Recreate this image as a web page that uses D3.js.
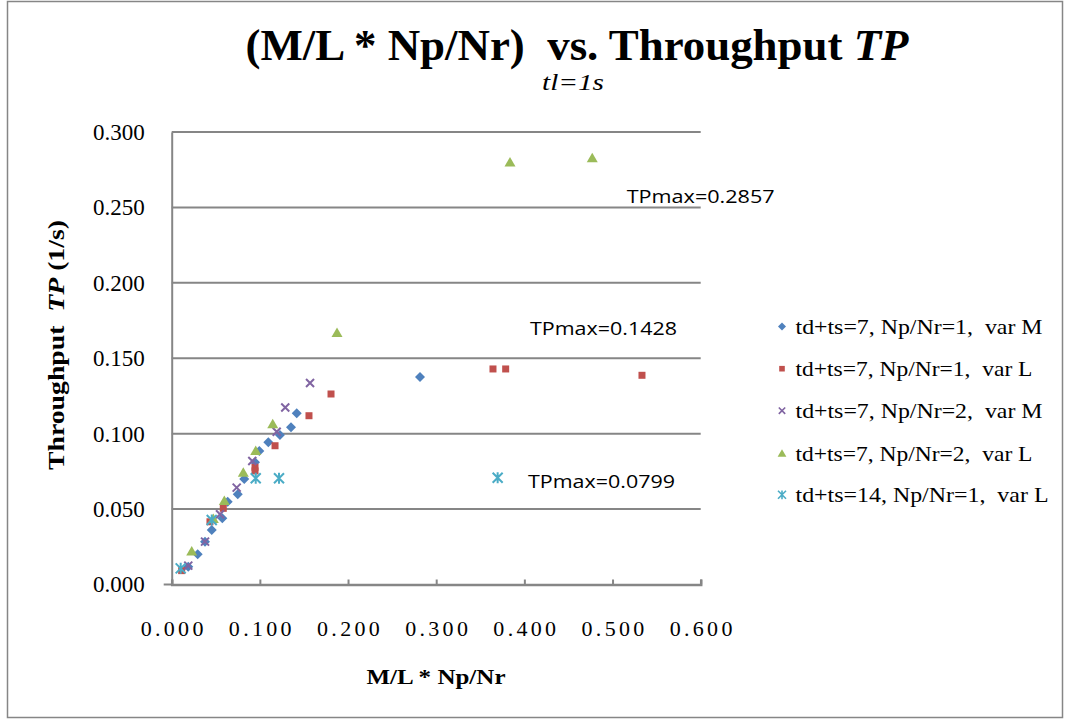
<!DOCTYPE html>
<html><head><meta charset="utf-8">
<script src="https://cdn.jsdelivr.net/npm/d3@7"></script>
<style>body{margin:0;background:#fff}svg{display:block}text{white-space:pre}</style>
</head><body>
<svg id="c" width="1070" height="721"></svg>
<script>
const seriesNames = ["td+ts=7, Np/Nr=1,  var M","td+ts=7, Np/Nr=1,  var L","td+ts=7, Np/Nr=2,  var M","td+ts=7, Np/Nr=2,  var L","td+ts=14, Np/Nr=1,  var L"];
const colors = ["#4F81BD","#C0504D","#8064A2","#9BBB59","#4BACC6"];
const shapes = ["diamond","square","x","triangle","star"];
const s1x = [0.0188,0.0295,0.0378,0.0454,0.0574,0.0635,0.0749,0.0823,0.0945,0.0994,0.1096,0.1228,0.1353,0.1418,0.2816];
const s1y = [0.0118,0.0200,0.0284,0.0361,0.0439,0.0549,0.0598,0.0700,0.0810,0.0885,0.0943,0.0991,0.1042,0.1135,0.1376];
const s2x = [0.0113,0.0434,0.0585,0.0945,0.0945,0.1172,0.1557,0.1807,0.3644,0.3788,0.5334];
const s2y = [0.0092,0.0416,0.0505,0.0777,0.0753,0.0920,0.1119,0.1263,0.1429,0.1429,0.1387];
const s3x = [0.0188,0.0378,0.0548,0.0737,0.0914,0.1191,0.1288,0.1569];
const s3y = [0.0125,0.0284,0.0466,0.0642,0.0819,0.1013,0.1174,0.1336];
const s4x = [0.0227,0.0472,0.0597,0.0812,0.0953,0.1146,0.1875,0.3837,0.4770];
const s4y = [0.0218,0.0434,0.0554,0.0741,0.0885,0.1062,0.1668,0.2797,0.2826];
const s5x = [0.0102,0.0454,0.0953,0.1217,0.3697];
const s5y = [0.0107,0.0428,0.0704,0.0704,0.0708];
const xTicks = [0,0.1,0.2,0.3,0.4,0.5,0.6];
const yTicks = [0,0.05,0.1,0.15,0.2,0.25,0.3];
const annotations = [["TPmax=0.2857",0.2857],["TPmax=0.1428",0.1428],["TPmax=0.0799",0.0799]];

const SERIF = "'Times New Roman', Times, 'Liberation Serif', serif";
const svg = d3.select("#c");
const x = d3.scaleLinear().domain([0,0.6]).range([171.7,700.7]);
const y = d3.scaleLinear().domain([0,0.3]).range([584.5,132]);
const fmt = d3.format(".3f");
const grid = "#868686";

svg.append("rect").attr("x",7.5).attr("y",1.5).attr("width",1055).attr("height",716)
  .attr("fill","#fff").attr("stroke",grid).attr("stroke-width",1.5);

// gridlines
svg.append("g").selectAll("line").data(yTicks.slice(1)).join("line")
  .attr("x1",x(0)).attr("x2",x(0.6)).attr("y1",d=>y(d)).attr("y2",d=>y(d))
  .attr("stroke",grid).attr("stroke-width",2);

// y axis
const ya = svg.append("g").attr("transform",`translate(${x(0)},0)`)
  .call(d3.axisLeft(y).tickValues(yTicks).tickFormat(fmt).tickSize(0).tickPadding(27));
ya.attr("font-family",SERIF);
ya.select(".domain").attr("stroke",grid).attr("stroke-width",2);
ya.selectAll("text").style("font-family",SERIF).attr("font-size",23).attr("fill","#000");
svg.append("line").attr("x1",x(0)-8).attr("x2",x(0)).attr("y1",y(0)).attr("y2",y(0)).attr("stroke",grid).attr("stroke-width",2);

// x axis
const xa = svg.append("g").attr("transform",`translate(0,${y(0)})`)
  .call(d3.axisBottom(x).tickValues(xTicks).tickFormat(fmt).tickSize(-5).tickPadding(36));
xa.attr("font-family",SERIF);
xa.select(".domain").attr("stroke",grid).attr("stroke-width",2.5);
xa.selectAll("line").attr("stroke",grid).attr("stroke-width",2);
xa.selectAll("text").style("font-family",SERIF).attr("font-size",22)
  .attr("letter-spacing","3.3px").attr("fill","#000").attr("dx","1.5");

// symbols
function drawMarker(g, shape, color){
  if(shape==="diamond") g.append("path").attr("d","M0,-5L5,0L0,5L-5,0Z").attr("fill",color);
  else if(shape==="square") g.append("rect").attr("x",-3.5).attr("y",-3.5).attr("width",7).attr("height",7).attr("fill",color);
  else if(shape==="triangle") g.append("path").attr("d","M0,-5.5L5.5,4L-5.5,4Z").attr("fill",color);
  else if(shape==="x") g.append("path").attr("d","M-4,-4L4,4M-4,4L4,-4").attr("stroke",color).attr("stroke-width",2).attr("fill","none");
  else if(shape==="star") g.append("path").attr("d","M-5,-5L5,5M-5,5L5,-5M0,-5.5L0,5.5").attr("stroke",color).attr("stroke-width",2).attr("fill","none");
}
const series = [[s1x,s1y],[s2x,s2y],[s3x,s3y],[s4x,s4y],[s5x,s5y]];
series.forEach((s,i)=>{
  const pts = s[0].map((v,j)=>[v,s[1][j]]);
  const g = svg.append("g");
  pts.forEach(p=>{
    const m = g.append("g").attr("transform",`translate(${x(p[0])},${y(p[1])})`);
    drawMarker(m, shapes[i], colors[i]);
  });
});

// annotations
const annX = [626.7,530,528];
const annLen = [148,147,147];
const annBase = [203,335,488];
annotations.forEach((a,i)=>{
  svg.append("text").attr("x",annX[i]).attr("y",annBase[i])
    .style("font-family","'Open Sans', 'Noto Sans', sans-serif").attr("font-size",19)
    .attr("textLength",annLen[i]).attr("lengthAdjust","spacingAndGlyphs")
    .attr("fill","#000").text(a[0]);
});

// legend
const legY = [326.5,368.7,410.7,453.6,494.8];
const legLen = [247,237,247,237,253];
seriesNames.forEach((n,i)=>{
  const sc = svg.append("g").attr("transform",`translate(782,${legY[i]}) scale(0.8)`);
  drawMarker(sc, shapes[i], colors[i]);
  svg.append("text").attr("x",795.5).attr("y",legY[i]+7).style("font-family",SERIF)
    .attr("font-size",22).attr("textLength",legLen[i]).attr("lengthAdjust","spacingAndGlyphs").text(n);
});

// titles
const t = svg.append("text").attr("x",577).attr("y",60).attr("text-anchor","middle")
  .style("font-family",SERIF).attr("font-weight","bold").attr("font-size",44)
  .attr("textLength",663).attr("lengthAdjust","spacingAndGlyphs");
t.append("tspan").text("(M/L * Np/Nr)  vs. Throughput ");
t.append("tspan").attr("font-style","italic").text("TP");
svg.append("text").attr("x",573).attr("y",90).attr("text-anchor","middle")
  .style("font-family",SERIF).attr("font-style","italic").attr("font-size",24)
  .attr("textLength",62).attr("lengthAdjust","spacingAndGlyphs").text("tl=1s");

const yt = svg.append("text").attr("transform","translate(64,345) rotate(-90)").attr("text-anchor","middle")
  .style("font-family",SERIF).attr("font-weight","bold").attr("font-size",23)
  .attr("textLength",250).attr("lengthAdjust","spacingAndGlyphs");
yt.append("tspan").text("Throughput  ");
yt.append("tspan").attr("font-style","italic").text("TP");
yt.append("tspan").text(" (1/s)");

svg.append("text").attr("x",436).attr("y",684).attr("text-anchor","middle")
  .style("font-family",SERIF).attr("font-weight","bold").attr("font-size",22)
  .attr("textLength",139).attr("lengthAdjust","spacingAndGlyphs").text("M/L * Np/Nr");
</script>
</body></html>
